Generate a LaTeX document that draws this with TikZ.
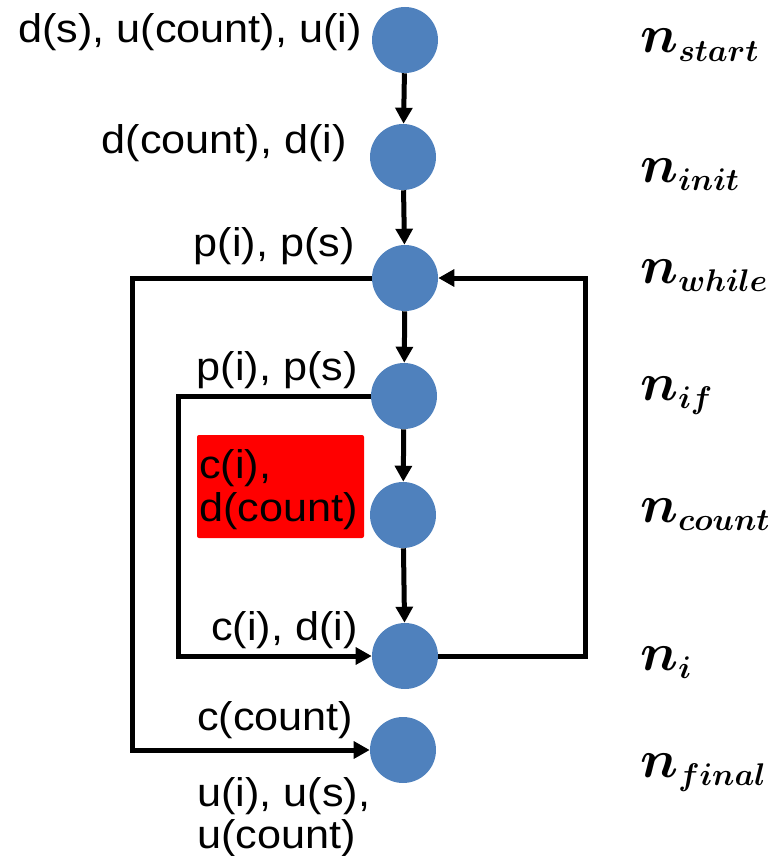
\RequirePackage{fix-cm}
\documentclass[tikz,border=0pt]{standalone}
\usepackage{fontspec}
\setmainfont{Liberation Sans}
\usepackage{amsmath}
\usepackage{bm}
\usetikzlibrary{arrows.meta}
\definecolor{nodeblue}{RGB}{79,129,189}
% bold italic node name with a fixed-size subscript
\newcommand{\cfgname}[1]{$\bm{n}_{\mbox{\fontsize{23.5}{28}\selectfont$\bm{#1}$}}$}
\tikzset{
  vertex/.style={circle, fill=nodeblue, draw=none, minimum size=49.5pt, inner sep=0pt},
  flow/.style={line width=3.75pt, -{Triangle[length=12pt,width=12.5pt]}},
  lbl/.style={font=\fontsize{30}{36}\selectfont, inner sep=0pt, xscale=1.08},
  nname/.style={font=\fontsize{40}{48}\selectfont, inner sep=0pt, anchor=base west},
  hilite/.style={fill=red, draw=none, rounded corners=1.5pt, inner sep=0pt,
                 minimum width=125.25pt, minimum height=77.25pt}
}
\begin{document}
\begin{tikzpicture}[x=0.75pt, y=-0.75pt]
  \useasboundingbox (0,0) rectangle (780,856);

  % highlighted definitions of the count node
  \node[hilite] (hbox) at (280.5,486.5) {};

  % CFG nodes
  \node[vertex] (start) at (405,40)  {};
  \node[vertex] (init)  at (403,157) {};
  \node[vertex] (while) at (405,278) {};
  \node[vertex] (if)    at (404,396) {};
  \node[vertex] (count) at (403,515) {};
  \node[vertex] (ni)    at (405,656) {};
  \node[vertex] (final) at (403,750) {};

  % helper columns for the loop edges
  \coordinate (outerL) at (132,0);
  \coordinate (innerL) at (178,0);
  \coordinate (outerR) at (585,0);

  % straight-line flow
  \draw[flow] (start) -- (init);
  \draw[flow] (init)  -- (while);
  \draw[flow] (while) -- (if);
  \draw[flow] (if)    -- (count);
  \draw[flow] (count) -- (ni);

  % branches and back edge
  \draw[flow] (while.west) -| (outerL |- final.west) -- (final.west);
  \draw[flow] (if.west) -| (innerL |- ni.west) -- (ni.west);
  \draw[flow] (ni.east) -| (outerR |- while.east) -- (while.east);

  % def/use annotations
  \node[lbl, anchor=base east] (a1) at (362,43)  {d(s), u(count), u(i)};
  \node[lbl, anchor=base east] (a2) at (347,153) {d(count), d(i)};
  \node[lbl, anchor=base east] (a3) at (355,256) {p(i), p(s)};
  \node[lbl, anchor=base east] (a4) at (358,380) {p(i), p(s)};
  \node[lbl, anchor=base west] (a5) at (199,478) {c(i),};
  \node[lbl, anchor=base west] (a6) at (199,521) {d(count)};
  \node[lbl, anchor=base east] (a7) at (358,640) {c(i), d(i)};
  \node[lbl, anchor=base west] (a8) at (197,730) {c(count)};
  \node[lbl, anchor=base west] (a9) at (197,806) {u(i), u(s),};
  \node[lbl, anchor=base west] (a10) at (197,848) {u(count)};

  % node names
  \node[nname] (l1) at (640,53)  {\cfgname{start}};
  \node[nname] (l2) at (640,182) {\cfgname{init}};
  \node[nname] (l3) at (640,283) {\cfgname{while}};
  \node[nname] (l4) at (640,400) {\cfgname{if}};
  \node[nname] (l5) at (640,522) {\cfgname{count}};
  \node[nname] (l6) at (640,670) {\cfgname{i}};
  \node[nname] (l7) at (640,777) {\cfgname{final}};
\end{tikzpicture}
\end{document}
